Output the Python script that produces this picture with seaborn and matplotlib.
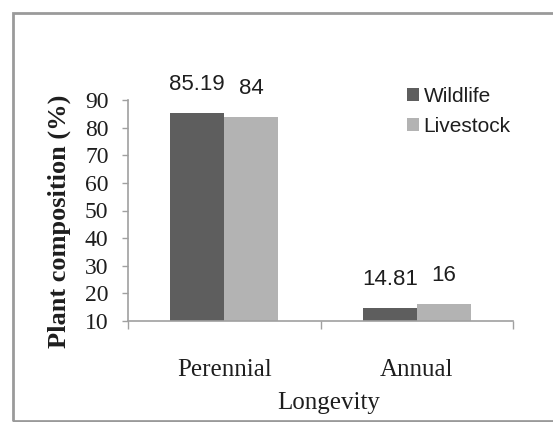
import matplotlib
matplotlib.use("Agg")
import matplotlib.pyplot as plt
from matplotlib.patches import Patch, Rectangle
import seaborn as sns
import pandas as pd

# data
longevity = ["Perennial", "Annual"]
wildlife = [85.19, 14.81]
livestock = [84, 16]
groups = ["Wildlife", "Livestock"]
colors = ["#5e5e5e", "#b3b3b3"]

df = pd.DataFrame({
    "Longevity": longevity * 2,
    "Value": wildlife + livestock,
    "Group": [groups[0]] * 2 + [groups[1]] * 2,
})

sns.set_style("white")
serif = ["Liberation Serif", "DejaVu Serif"]
sans = ["Liberation Sans", "DejaVu Sans"]
ink = "#1e1e1e"

fig = plt.figure(figsize=(5.53, 4.22), dpi=100)
ax = fig.add_axes([128 / 553, 1 - 321 / 422, (513 - 128) / 553, (321 - 100) / 422])

sns.barplot(data=df, x="Longevity", y="Value", hue="Group", order=longevity,
            hue_order=groups, palette=colors, width=0.56, saturation=1,
            linewidth=0, ax=ax, legend=False)

ax.set_ylim(10, 90)
ax.set_xlim(-0.5, 1.5)
ax.set_yticks(range(10, 91, 10))
ax.set_yticklabels([str(v) for v in range(10, 91, 10)], family=serif, fontsize=17, color=ink)
ax.tick_params(axis="y", direction="out", length=4, width=1, color="#a0a0a0", pad=10, left=True)

# boundaries as major ticks, category names as minor ticks
ax.set_xticks([-0.5, 0.5, 1.5])
ax.set_xticklabels([])
ax.tick_params(axis="x", which="major", direction="out", length=6, width=1, color="#a0a0a0", bottom=True)
ax.set_xticks([0, 1], minor=True)
ax.set_xticklabels(longevity, minor=True, family=serif, fontsize=18, color=ink)
ax.tick_params(axis="x", which="minor", length=0, pad=27)

for s in ["top", "right"]:
    ax.spines[s].set_visible(False)
for s in ["left", "bottom"]:
    ax.spines[s].set_color("#a0a0a0")
    ax.spines[s].set_linewidth(1.2)

ax.set_xlabel("Longevity", family=serif, fontsize=18, color=ink)
ax.xaxis.set_label_coords(0.52, -0.322)
ax.set_ylabel("Plant composition (%)", family=serif, fontsize=19, fontweight="bold", color=ink)
ax.yaxis.set_label_coords(-0.148, 0.45)

for cont in ax.containers:
    labels = ["%g" % b.get_height() for b in cont]
    for t in ax.bar_label(cont, labels=labels, padding=13, fontsize=16, family=sans, color=ink):
        t.set_clip_on(False)

handles = [Patch(facecolor=c, edgecolor="none") for c in colors]
fig.legend(handles, groups, loc="upper left", bbox_to_anchor=(388 / 553, 1 - 68 / 422),
           frameon=False, prop={"family": sans, "size": 15}, handlelength=0.6,
           handleheight=0.6, handletextpad=0.2, labelspacing=0.55, labelcolor=ink)

fig.patches.append(Rectangle((13 / 553, 1 / 422), 545 / 553, 408 / 422, transform=fig.transFigure,
                             fill=False, edgecolor="#9a9a9a", linewidth=2))

fig.savefig("out.png", dpi=100)
